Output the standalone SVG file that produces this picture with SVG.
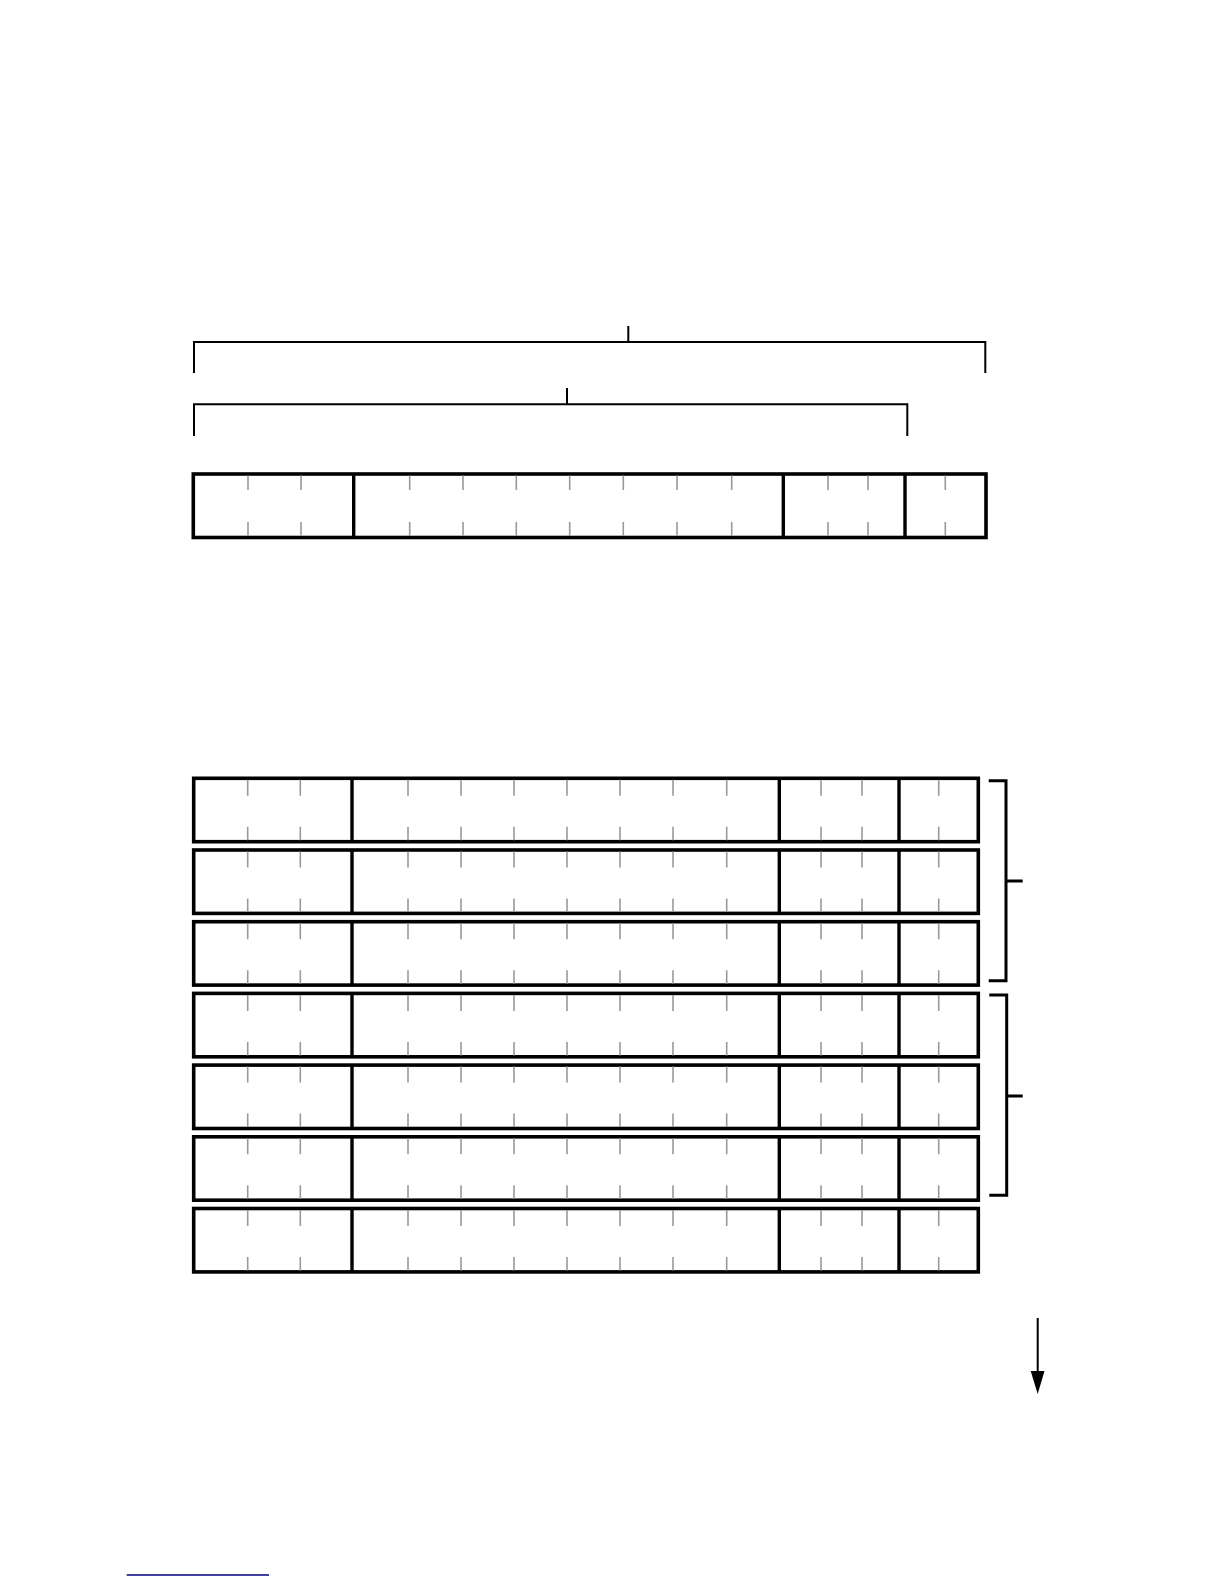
<svg xmlns="http://www.w3.org/2000/svg" xmlns:xlink="http://www.w3.org/1999/xlink" width="1224" height="1584" viewBox="0 0 1224 1584">
<style>
.box{fill:#fff;stroke:#000;stroke-width:3.6}
.div{stroke:#000;stroke-width:3.4}
.tick{stroke:#999;stroke-width:1.6}
.br{fill:none;stroke:#000;stroke-width:2}
.br2{fill:none;stroke:#000;stroke-width:3}
</style>
<defs>
<g id="row">
<rect class="box" x="193.7" y="0" width="784.6" height="63.4"/>
<path class="div" d="M352,0V63.4M779.3,0V63.4M899,0V63.4"/>
<path class="tick" d="M247.7,1.5V17.5M300.3,1.5V17.5M408,1.5V17.5M461,1.5V17.5M514,1.5V17.5M567,1.5V17.5M620,1.5V17.5M673,1.5V17.5M726.7,1.5V17.5M821,1.5V17.5M862,1.5V17.5M938.7,1.5V17.5M247.7,48.5V62M300.3,48.5V62M408,48.5V62M461,48.5V62M514,48.5V62M567,48.5V62M620,48.5V62M673,48.5V62M726.7,48.5V62M821,48.5V62M862,48.5V62M938.7,48.5V62"/>
</g>
</defs>
<rect width="1224" height="1584" fill="#fff"/>
<g id="record-top">
<rect class="box" x="193.3" y="474" width="792.7" height="63.5"/>
<path class="div" d="M353.7,474V537.5M783.3,474V537.5M905,474V537.5"/>
<path class="tick" d="M248,475.5V490M301,475.5V490M409.7,475.5V490M463,475.5V490M516.3,475.5V490M569.7,475.5V490M623.3,475.5V490M677,475.5V490M731.7,475.5V490M828,475.5V490M868,475.5V490M945.3,475.5V490M248,522V536M301,522V536M409.7,522V536M463,522V536M516.3,522V536M569.7,522V536M623.3,522V536M677,522V536M731.7,522V536M828,522V536M868,522V536M945.3,522V536"/>
</g>
<g id="row1" transform="translate(0,778.3)"><use xlink:href="#row"/></g>
<g id="row2" transform="translate(0,850)"><use xlink:href="#row"/></g>
<g id="row3" transform="translate(0,921.7)"><use xlink:href="#row"/></g>
<g id="row4" transform="translate(0,993.4)"><use xlink:href="#row"/></g>
<g id="row5" transform="translate(0,1065.1)"><use xlink:href="#row"/></g>
<g id="row6" transform="translate(0,1136.8)"><use xlink:href="#row"/></g>
<g id="row7" transform="translate(0,1208.5)"><use xlink:href="#row"/></g>
<g id="connectors">
<path class="br" d="M194,373V342H985.3V373M628.3,326V342"/>
<path class="br" d="M194,436V404.3H907.3V436M567,388V404.3"/>
<path class="br2" d="M988.7,780.7H1006V980.7H988.7M1006,881H1022.7"/>
<path class="br2" d="M989.3,995H1006.7V1195.3H989.3M1006.7,1096H1022.7"/>
<line x1="1037.7" y1="1318" x2="1037.7" y2="1373" stroke="#000" stroke-width="2"/>
<polygon points="1030.7,1371 1044.5,1371 1037.7,1394" fill="#000"/>
</g>
<line x1="126.7" y1="1575" x2="269" y2="1575" stroke="#000080" stroke-width="1.4"/>
</svg>
